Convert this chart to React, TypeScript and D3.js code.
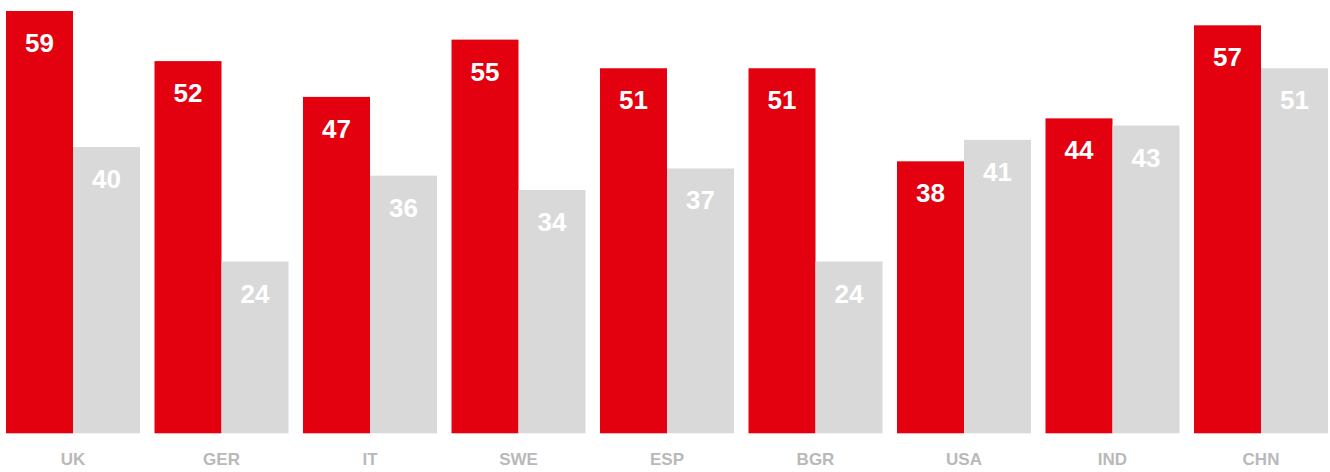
import React from "react";
import * as d3 from "d3";

const categories = ["UK", "GER", "IT", "SWE", "ESP", "BGR", "USA", "IND", "CHN"];
const redValues = [59, 52, 47, 55, 51, 51, 38, 44, 57];
const grayValues = [40, 24, 36, 34, 37, 24, 41, 43, 51];

const W = 1330;
const H = 472;
const RED = "#e3000f";
const GRAY = "#d8d9d8";

export default function App() {
  const x = d3.scaleBand<string>().domain(categories).range([6, 1328]).paddingInner(14.5 / 148.5).paddingOuter(0);
  const sub = d3.scaleBand<string>().domain(["red", "gray"]).range([0, x.bandwidth()]);
  const y = d3.scaleLinear().domain([0, 59]).range([433.3, 11]);

  const series = [
    { key: "red", values: redValues, color: RED },
    { key: "gray", values: grayValues, color: GRAY },
  ];

  return (
    <svg width={W} height={H} style={{ position: "absolute", left: 0, top: 0, fontFamily: "'Liberation Sans', Arial, Helvetica, sans-serif" }}>
      {categories.map((c, i) => (
        <g key={c} transform={`translate(${x(c)},0)`}>
          {series.map((s) => {
            const v = s.values[i];
            const bx = sub(s.key)!;
            return (
              <g key={s.key}>
                <rect x={bx} y={y(v)} width={sub.bandwidth()} height={y(0) - y(v)} fill={s.color} />
                <text
                  x={bx + sub.bandwidth() / 2}
                  y={y(v) + 41}
                  textAnchor="middle"
                  fill="#ffffff"
                  fontWeight="bold"
                  fontSize={26}
                >
                  {v}
                </text>
              </g>
            );
          })}
          <text x={x.bandwidth() / 2} y={465} textAnchor="middle" fill="#b9b9b9" fontWeight="bold" fontSize={17}>
            {c}
          </text>
        </g>
      ))}
    </svg>
  );
}
